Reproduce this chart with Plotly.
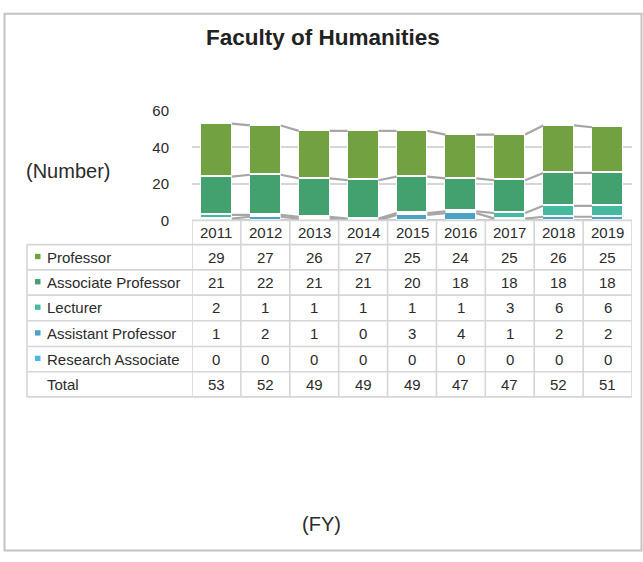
import plotly.graph_objects as go

# ---------------- data ----------------
years = ["2011", "2012", "2013", "2014", "2015", "2016", "2017", "2018", "2019"]
professor = [29, 27, 26, 27, 25, 24, 25, 26, 25]
associate_professor = [21, 22, 21, 21, 20, 18, 18, 18, 18]
lecturer = [2, 1, 1, 1, 1, 1, 3, 6, 6]
assistant_professor = [1, 2, 1, 0, 3, 4, 1, 2, 2]
research_associate = [0, 0, 0, 0, 0, 0, 0, 0, 0]
totals = [53, 52, 49, 49, 49, 47, 47, 52, 51]

y_ticks = [0, 20, 40, 60]

# stacking order (bottom -> top)
stack = [
    ("Research Associate", research_associate, "#4FB6E6"),
    ("Assistant Professor", assistant_professor, "#4AA3C4"),
    ("Lecturer", lecturer, "#45BA9E"),
    ("Associate Professor", associate_professor, "#43A06F"),
    ("Professor", professor, "#72A141"),
]
# table order (top -> bottom)
table_rows = [stack[4], stack[3], stack[2], stack[1], stack[0]]

# ---------------- geometry helpers ----------------
W, H = 643, 562
def px(x):
    return x / W
def py(y):
    return 1 - y / H

BAR_W = 0.63
FONT = "Liberation Sans, Arial, sans-serif"
TXT = "#2B2B2B"
GRID = "#D6D6D6"

fig = go.Figure()

xs = list(range(len(years)))

# series connector lines
cum = [0] * len(years)
for name, vals, color in stack:
    cum = [c + v for c, v in zip(cum, vals)]
    lx, ly = [], []
    for i in range(len(years) - 1):
        lx += [xs[i] + BAR_W / 2, xs[i + 1] - BAR_W / 2, None]
        ly += [cum[i], cum[i + 1], None]
    fig.add_trace(go.Scatter(x=lx, y=ly, mode="lines",
                             line=dict(color="#A6A6A6", width=2.2),
                             hoverinfo="skip", showlegend=False,
                             cliponaxis=False))

for name, vals, color in stack:
    fig.add_trace(go.Bar(x=xs, y=vals, name=name, width=BAR_W,
                         marker=dict(color=color, line=dict(color="white", width=1.5)),
                         showlegend=False))

shapes = []
annotations = []

def ann(x, y, text, size=15, xref="paper", xanchor="center", color=TXT):
    annotations.append(dict(x=x, y=y, xref=xref, yref="paper", text=text,
                            xanchor=xanchor, yanchor="middle", showarrow=False,
                            font=dict(size=size, color=color, family=FONT)))

# outer border
shapes.append(dict(type="rect", xref="paper", yref="paper",
                   x0=px(4.5), x1=px(641.5), y0=py(558.5), y1=py(5),
                   line=dict(color="#C4C4C4", width=2), layer="below"))

# table geometry (pixels)
tbl_left = 27
col0_right = 192
tbl_right = 632
header_top = 218
row_bounds = [243, 269, 295, 321.5, 348, 374, 400]
line_style = dict(color=GRID, width=1.6)

shapes.append(dict(type="line", xref="paper", yref="paper",
                   x0=px(col0_right), x1=px(tbl_right), y0=py(header_top), y1=py(header_top),
                   line=line_style))
for yb in row_bounds:
    shapes.append(dict(type="line", xref="paper", yref="paper",
                       x0=px(tbl_left), x1=px(tbl_right), y0=py(yb), y1=py(yb),
                       line=line_style))
shapes.append(dict(type="line", xref="paper", yref="paper",
                   x0=px(tbl_left), x1=px(tbl_left), y0=py(row_bounds[0]), y1=py(row_bounds[-1]),
                   line=line_style))
for j in range(len(years) + 1):
    shapes.append(dict(type="line", xref="x", yref="paper",
                       x0=j - 0.5, x1=j - 0.5, y0=py(header_top), y1=py(row_bounds[-1]),
                       line=line_style))

# header labels
hdr_c = (header_top + row_bounds[0]) / 2
for i, yr in enumerate(years):
    ann(i, py(hdr_c), yr, xref="x")

# body rows
all_rows = [(n, v, c) for n, v, c in table_rows] + [("Total", totals, None)]
for r, (name, vals, color) in enumerate(all_rows):
    yc = (row_bounds[r] + row_bounds[r + 1]) / 2
    ann(px(44.5), py(yc), name, xanchor="left")
    if color:
        shapes.append(dict(type="rect", xref="paper", yref="paper",
                           x0=px(35), x1=px(40.5), y0=py(yc + 2), y1=py(yc - 3.5),
                           fillcolor=color, line=dict(width=0)))
    for i, v in enumerate(vals):
        ann(i, py(yc), str(v), xref="x")

# axis titles and title
ann(px(67.5), py(167.5), "(Number)", size=20)
ann(px(321), py(531), "(FY)", size=20)
ann(px(322.5), py(29), "<b>Faculty of Humanities</b>", size=22.5, color="#222222")

fig.update_layout(
    width=W, height=H,
    margin=dict(l=0, r=0, t=0, b=0),
    paper_bgcolor="white", plot_bgcolor="white",
    barmode="stack", bargap=0,
    shapes=shapes, annotations=annotations,
    xaxis=dict(domain=[px(col0_right), px(tbl_right)], range=[-0.5, len(years) - 0.5],
               showticklabels=False, showgrid=False, zeroline=False, showline=False,
               fixedrange=True),
    yaxis=dict(domain=[py(218), py(105)], range=[0, 60], tickvals=y_ticks,
               showgrid=True, gridcolor=GRID, gridwidth=1.6, zeroline=False,
               showline=False, ticks="", ticklabelstandoff=22,
               tickfont=dict(size=15, color=TXT, family=FONT), fixedrange=True),
)

fig.write_html("out.html", post_script="document.body.style.margin='0';",
               config={"displayModeBar": False})
